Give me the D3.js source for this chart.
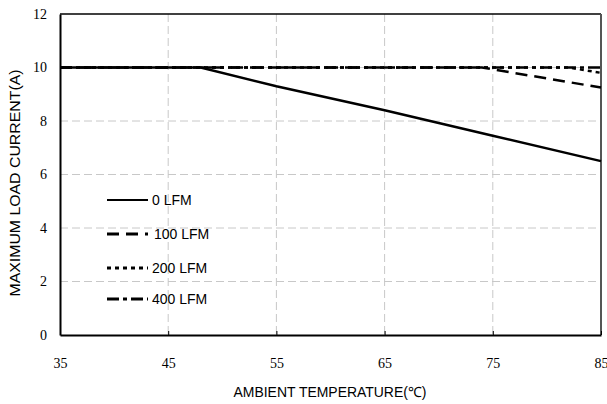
<!DOCTYPE html>
<html>
<head>
<meta charset="utf-8">
<script src="https://cdn.jsdelivr.net/npm/d3@7"></script>
<style>
  body { margin: 0; background: #fff; }
  svg { display: block; }
</style>
</head>
<body>
<svg id="chart" width="607" height="404"></svg>
<script>
// data
const xTicks = [35, 45, 55, 65, 75, 85];
const yTicks = [0, 2, 4, 6, 8, 10, 12];
const seriesNames = ['0 LFM', '100 LFM', '200 LFM', '400 LFM'];
const temps0 = [35, 48, 55, 65, 75, 85];
const load0 = [10, 10, 9.3, 8.4, 7.45, 6.5];
const temps100 = [35, 74, 85];
const load100 = [10, 10, 9.25];
const temps200 = [35, 82, 85];
const load200 = [10, 10, 9.8];
const temps400 = [35, 85];
const load400 = [10, 10];

const dashes = [null, '12,7', '4,4', '12,4,4,4'];
const series = [
  [temps0, load0], [temps100, load100], [temps200, load200], [temps400, load400]
].map(([t, v], i) => ({ name: seriesNames[i], dash: dashes[i], pts: t.map((d, j) => [d, v[j]]) }));

const svg = d3.select('#chart');
const m = { left: 60, top: 14, right: 6, bottom: 69 };
const W = 607, H = 404;

const x = d3.scaleLinear().domain([35, 85]).range([m.left, W - m.right]);
const y = d3.scaleLinear().domain([0, 12]).range([H - m.bottom, m.top]);

// GRID
const grid = svg.append('g')
  .attr('stroke', '#c8c8c8')
  .attr('stroke-width', 1)
  .attr('stroke-dasharray', '8,4');
grid.selectAll('line.v')
  .data(xTicks.slice(1, -1))
  .enter().append('line')
  .attr('x1', d => x(d)).attr('x2', d => x(d))
  .attr('y1', y(12)).attr('y2', y(0));
grid.selectAll('line.h')
  .data(yTicks.slice(1, -1))
  .enter().append('line')
  .attr('x1', x(35)).attr('x2', x(85))
  .attr('y1', d => y(d)).attr('y2', d => y(d));

// FRAME
svg.append('line')
  .attr('x1', x(35)).attr('x2', x(85)).attr('y1', y(12)).attr('y2', y(12))
  .attr('stroke', '#000').attr('stroke-width', 1.5);
svg.append('line')
  .attr('x1', x(85)).attr('x2', x(85)).attr('y1', y(12)).attr('y2', y(0))
  .attr('stroke', '#555').attr('stroke-width', 2);

// AXES
const xAxis = svg.append('g')
  .attr('transform', `translate(0,${y(0)})`)
  .call(d3.axisBottom(x).tickValues(xTicks).tickSizeInner(4).tickSizeOuter(0).tickPadding(19));
const yAxis = svg.append('g')
  .attr('transform', `translate(${x(35)},0)`)
  .call(d3.axisLeft(y).tickValues(yTicks).tickSize(0).tickPadding(13));
[xAxis, yAxis].forEach(a => {
  a.attr('font-family', '"Liberation Serif", "Times New Roman", serif');
  a.select('.domain').attr('stroke', '#000').attr('stroke-width', 2);
  a.selectAll('text')
    .attr('font-family', '"Liberation Serif", "Times New Roman", serif')
    .attr('font-size', 14)
    .attr('fill', '#000');
});
xAxis.selectAll('.tick line').attr('stroke', '#000').attr('stroke-width', 1).attr('transform', 'translate(0,-4)');

// LINES
const line = d3.line().x(d => x(d[0])).y(d => y(d[1]));
svg.append('g')
  .selectAll('path')
  .data(series.slice().reverse())
  .enter().append('path')
  .attr('d', d => line(d.pts))
  .attr('fill', 'none')
  .attr('stroke', '#000')
  .attr('stroke-width', 2.5)
  .attr('stroke-dasharray', d => d.dash);

// LEGEND
const legendY = [200, 234, 268, 299];
const legend = svg.append('g')
  .selectAll('g')
  .data(series)
  .enter().append('g')
  .attr('transform', (d, i) => `translate(107,${legendY[i]})`);
legend.append('line')
  .attr('x1', 0).attr('x2', 41)
  .attr('stroke', '#000')
  .attr('stroke-width', (d, i) => i === 0 ? 2 : 3)
  .attr('stroke-dasharray', d => d.dash);
legend.append('text')
  .attr('x', (d, i) => i === 1 ? 47 : 45)
  .attr('dy', '0.36em')
  .attr('font-family', '"Liberation Sans", Arial, sans-serif')
  .attr('font-size', 14)
  .text(d => d.name);

// AXIS TITLES
svg.append('text')
  .attr('x', 330).attr('y', 397)
  .attr('text-anchor', 'middle')
  .attr('font-family', '"Liberation Sans", Arial, sans-serif')
  .attr('font-size', 14)
  .attr('textLength', 193)
  .attr('lengthAdjust', 'spacingAndGlyphs')
  .text('AMBIENT TEMPERATURE(℃)');
svg.append('text')
  .attr('transform', 'translate(20,183) rotate(-90)')
  .attr('text-anchor', 'middle')
  .attr('font-family', '"Liberation Sans", Arial, sans-serif')
  .attr('font-size', 15)
  .attr('textLength', 227)
  .attr('lengthAdjust', 'spacingAndGlyphs')
  .text('MAXIMUM LOAD CURRENT(A)');
</script>
</body>
</html>
